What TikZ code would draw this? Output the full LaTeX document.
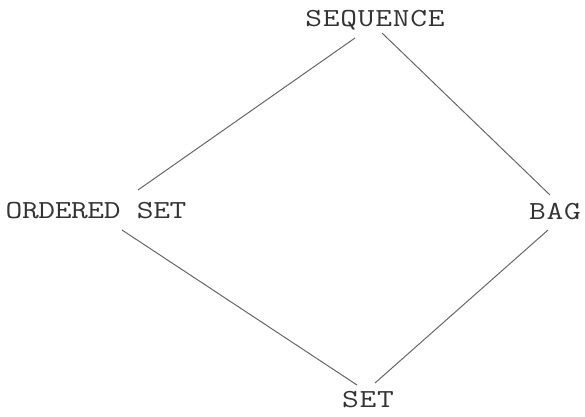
\documentclass[tikz,border=0pt]{standalone}
\usepackage{fontspec}
\newfontfamily\twfont[FakeStretch=1.25,LetterSpace=3]{Latin Modern Mono}
\newfontfamily\twfontn[FakeStretch=1.25,LetterSpace=-1.5]{Latin Modern Mono}
\usetikzlibrary{calc}
\begin{document}
\begin{tikzpicture}[x=1pt,y=1pt,
  lbl/.style={font=\twfont\fontsize{26}{26}\selectfont, text=black!80, inner sep=0pt, anchor=base},
  lbln/.style={lbl, font=\twfontn\fontsize{26}{26}\selectfont},
  edge/.style={draw=black!60, line width=1pt}]
\useasboundingbox (0,0) rectangle (585,416);
\node[lbl] (seq) at (375,389) {SEQUENCE};
\node[lbln] (ord) at (96,198) {ORDERED SET};
\node[lbl] (bag) at (555,197) {BAG};
\node[lbl] (set) at (368,9) {SET};
\coordinate (s1) at ($(seq.base)+(-20,-11)$);
\coordinate (s2) at ($(seq.base)+(7,-6)$);
\coordinate (o1) at ($(ord.base)+(42,28)$);
\coordinate (o2) at ($(ord.base)+(26,-12)$);
\coordinate (b1) at ($(bag.base)+(-5,24)$);
\coordinate (b2) at ($(bag.base)+(-7,-11)$);
\coordinate (t1) at ($(set.base)+(-11,22)$);
\coordinate (t2) at ($(set.base)+(7,24)$);
\draw[edge] (s1) -- (o1);
\draw[edge] (s2) -- (b1);
\draw[edge] (o2) -- (t1);
\draw[edge] (b2) -- (t2);
\end{tikzpicture}
\end{document}
